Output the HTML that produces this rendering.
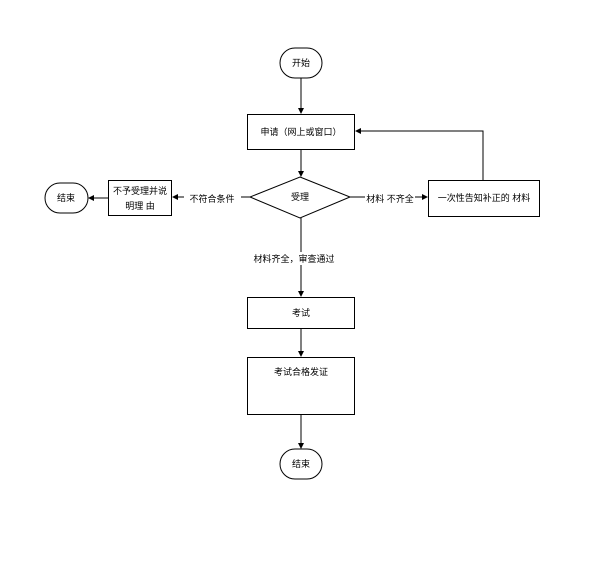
<!DOCTYPE html>
<html><head><meta charset="utf-8"><style>
body{margin:0;background:#fff}
text{font-family:"Liberation Sans","Noto Sans CJK SC",sans-serif;font-size:9px;fill:#000}
</style></head><body>
<svg width="606" height="560" xmlns="http://www.w3.org/2000/svg">
<defs><marker id="a" markerWidth="6" markerHeight="6" refX="5" refY="3" orient="auto"><path d="M0,0L6,3L0,6z" fill="#000"/></marker></defs>
<g stroke="#000" stroke-width="1" fill="none">
<rect x="280" y="48" width="42" height="30" rx="15"/>
<rect x="247.5" y="114.5" width="107" height="35"/>
<polygon points="300,177 350,197 300,218 250,197"/>
<rect x="108.5" y="180.5" width="63" height="35"/>
<rect x="45" y="183" width="43" height="30" rx="15"/>
<rect x="428.5" y="180.5" width="111" height="36"/>
<rect x="247.5" y="297.5" width="107" height="31"/>
<rect x="247.5" y="357.5" width="107" height="57"/>
<rect x="280" y="449" width="42" height="30" rx="15"/>
<line x1="301" y1="78" x2="301" y2="113" marker-end="url(#a)"/>
<line x1="301" y1="150" x2="301" y2="176" marker-end="url(#a)"/>
<line x1="301" y1="218" x2="301" y2="296" marker-end="url(#a)"/>
<line x1="301" y1="329" x2="301" y2="356" marker-end="url(#a)"/>
<line x1="301" y1="415" x2="301" y2="448" marker-end="url(#a)"/>
<line x1="250" y1="197" x2="173" y2="197" marker-end="url(#a)"/>
<line x1="108" y1="198" x2="89" y2="198" marker-end="url(#a)"/>
<line x1="350" y1="197" x2="427" y2="197" marker-end="url(#a)"/>
<polyline points="483,180 483,131 356,131" marker-end="url(#a)"/>
</g>
<rect x="184" y="192" width="57" height="12" fill="#fff"/>
<rect x="365" y="192" width="50" height="12" fill="#fff"/>
<rect x="258" y="252" width="72" height="13" fill="#fff"/>
<text x="301" y="66" text-anchor="middle">开始</text>
<text x="301" y="135" text-anchor="middle">申请（网上或窗口）</text>
<text x="300" y="200" text-anchor="middle">受理</text>
<text x="140" y="194" text-anchor="middle">不予受理并说</text>
<text x="140" y="209" text-anchor="middle">明理 由</text>
<text x="66" y="201" text-anchor="middle">结束</text>
<text x="484" y="201" text-anchor="middle">一次性告知补正的 材料</text>
<text x="212" y="202" text-anchor="middle">不符合条件</text>
<text x="390" y="202" text-anchor="middle">材料 不齐全</text>
<text x="294" y="262" text-anchor="middle">材料齐全，审查通过</text>
<text x="301" y="316" text-anchor="middle">考试</text>
<text x="301" y="375" text-anchor="middle">考试合格发证</text>
<text x="301" y="467" text-anchor="middle">结束</text>
</svg>
</body></html>
